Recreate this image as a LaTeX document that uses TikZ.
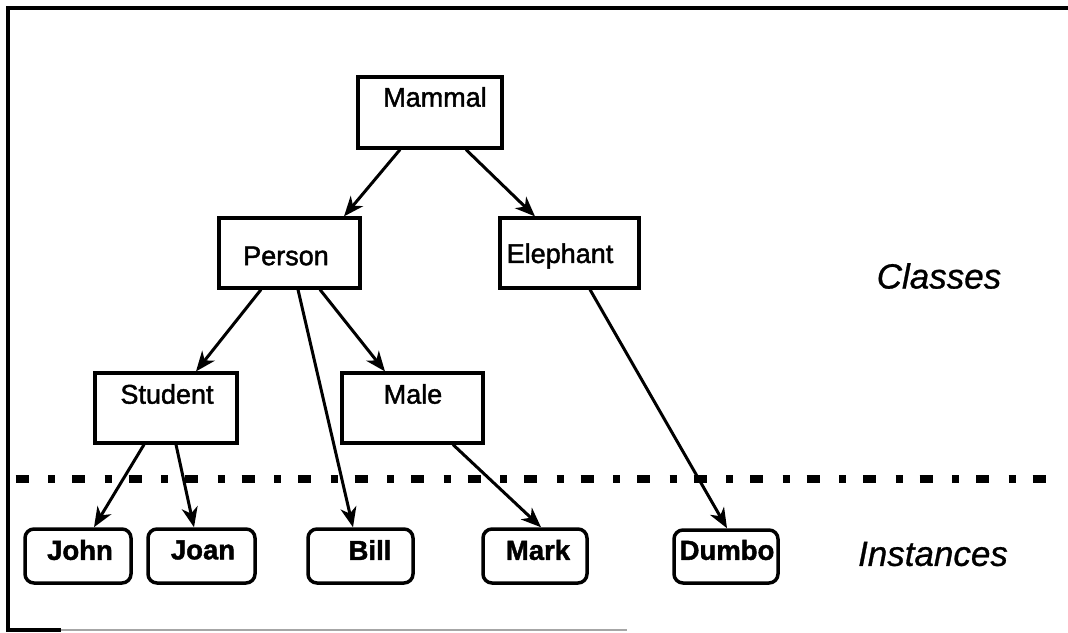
\documentclass[tikz,border=0pt]{standalone}
\usepackage{fontspec}
\setmainfont{Liberation Sans}
\newfontfamily\clsfont[FakeBold=1.6]{Liberation Sans}
\newfontfamily\instfont[FakeBold=1.5]{Liberation Sans Bold}
\newfontfamily\sidefont[FakeBold=0.8]{Liberation Sans Italic}
\usetikzlibrary{arrows.meta}
\begin{document}
\begin{tikzpicture}[x=1pt,y=-1pt,
  clsbox/.style={draw,line width=3.2pt,inner sep=0pt},
  instbox/.style={draw,line width=3.5pt,rounded corners=9pt,inner sep=0pt},
  clstext/.style={inner sep=0pt,font=\clsfont\fontsize{27}{29}\selectfont},
  insttext/.style={inner sep=0pt,font=\instfont\fontsize{27.5}{30}\selectfont},
  sidetext/.style={inner sep=0pt,font=\sidefont\fontsize{35}{38}\selectfont},
  link/.style={line width=3pt,-{Stealth[length=20pt,width=16pt,inset=6pt]}},
  divider/.style={line width=8pt,dash pattern=on 13pt off 19.5pt on 7pt off 17pt,dash phase=-7.5pt}
]
\useasboundingbox (0,0) rectangle (1068,632);
% frame
\draw[line width=3.5pt] (1068,8) -- (8,8) -- (8,630) -- (61,630);
\draw[line width=2pt,gray!70] (61,630) -- (627,630);
% class boxes
\node[clsbox,minimum width=144pt,minimum height=71pt] (mammal) at (430,112.5) {};
\node[clsbox,minimum width=141pt,minimum height=70pt] (person) at (289.5,253) {};
\node[clsbox,minimum width=139pt,minimum height=70pt] (elephant) at (569.5,253) {};
\node[clsbox,minimum width=142pt,minimum height=70pt] (student) at (166,408) {};
\node[clsbox,minimum width=141pt,minimum height=70pt] (male) at (412.5,408) {};
\node[clstext] (tmammal) at (435,97) {Mammal};
\node[clstext] (tperson) at (286,256) {Person};
\node[clstext] (telephant) at (560,256) {Elephant};
\node[clstext] (tstudent) at (167,394) {Student};
\node[clstext] (tmale) at (413,394) {Male};
% instance boxes
\node[instbox,minimum width=106pt,minimum height=54pt] (john) at (78,556) {};
\node[instbox,minimum width=107pt,minimum height=54pt] (joan) at (201.5,556) {};
\node[instbox,minimum width=105pt,minimum height=54pt] (bill) at (360.5,556) {};
\node[instbox,minimum width=104pt,minimum height=54pt] (mark) at (535,556) {};
\node[instbox,minimum width=104pt,minimum height=53pt] (dumbo) at (726,556.5) {};
\node[insttext] (tjohn) at (80,550) {John};
\node[insttext] (tjoan) at (203,550) {Joan};
\node[insttext] (tbill) at (370,550) {Bill};
\node[insttext] (tmark) at (538,550) {Mark};
\node[insttext] (tdumbo) at (727,550) {Dumbo};
% side labels
\node[sidetext] (classes) at (939,276) {Classes};
\node[sidetext] (instances) at (933,554) {Instances};
% divider
\coordinate (dl) at (8,479);
\coordinate (dr) at (1062,479);
\draw[divider] (dl) -- (dr);
% connectors
\draw[link] ([xshift=-30pt]mammal.south) -- ([xshift=54.5pt]person.north);
\draw[link] ([xshift=36pt]mammal.south) -- ([xshift=-34.5pt]elephant.north);
\draw[link] ([xshift=-28.5pt]person.south) -- ([xshift=30pt]student.north);
\draw[link] ([xshift=8.5pt]person.south) -- ([xshift=-7.5pt]bill.north);
\draw[link] ([xshift=30.5pt]person.south) -- ([xshift=-27.5pt]male.north);
\draw[link] ([xshift=20.5pt]elephant.south) -- ([xshift=1pt]dumbo.north);
\draw[link] ([xshift=-22pt]student.south) -- ([xshift=16pt]john.north);
\draw[link] ([xshift=10pt]student.south) -- ([xshift=-7.5pt]joan.north);
\draw[link] ([xshift=40.5pt]male.south) -- ([xshift=6pt]mark.north);
\end{tikzpicture}
\end{document}
